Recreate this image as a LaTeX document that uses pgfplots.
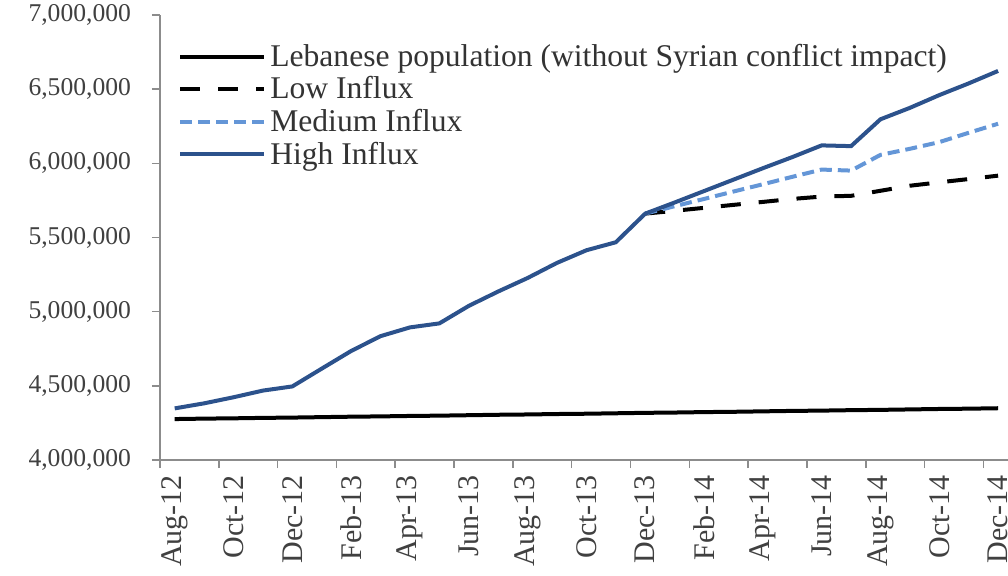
\documentclass[border=0pt]{standalone}
\usepackage{pgfplots}
\pgfplotsset{compat=1.18}
\usepackage{pgfplotstable}
\usepackage{fontspec}
\setmainfont{Liberation Serif}
\definecolor{highc}{HTML}{2C528C}
\definecolor{medc}{HTML}{6496D7}
\definecolor{axc}{HTML}{8C8C8C}
\definecolor{txtc}{HTML}{404040}
\definecolor{legc}{HTML}{333333}

\pgfplotstableread{
m leb
0 4276000
1 4279000
2 4281000
3 4284000
4 4286000
5 4289000
6 4292000
7 4294000
8 4297000
9 4299000
10 4302000
11 4305000
12 4307000
13 4310000
14 4312000
15 4315000
16 4318000
17 4320000
18 4323000
19 4325000
20 4328000
21 4331000
22 4333000
23 4336000
24 4338000
25 4341000
26 4344000
27 4346000
28 4349000
}\lebtab

\pgfplotstableread{
m high
0 4348000
1 4382000
2 4423000
3 4468000
4 4496000
5 4616000
6 4735000
7 4835000
8 4894000
9 4921000
10 5039000
11 5136000
12 5227000
13 5329000
14 5414000
15 5468000
16 5661000
17 5736000
18 5813000
19 5890000
20 5967000
21 6042000
22 6121000
23 6116000
24 6297000
25 6374000
26 6460000
27 6539000
28 6623000
}\hightab

\pgfplotstableread{
m med
16 5661000
17 5711000
18 5760000
19 5810000
20 5859000
21 5909000
22 5958000
23 5951000
24 6057000
25 6098000
26 6143000
27 6206000
28 6267000
}\medtab

\pgfplotstableread{
m low
16 5661000
17 5680000
18 5700000
19 5720000
20 5740000
21 5760000
22 5776000
23 5781000
24 5815000
25 5849000
26 5872000
27 5894000
28 5917000
}\lowtab

\begin{document}
\begin{tikzpicture}
\begin{axis}[
  at={(80pt,57.5pt)}, anchor=south west,
  scale only axis,
  width=426.4pt, height=222.5pt,
  xmin=-0.5, xmax=28.5,
  ymin=4000000, ymax=7000000,
  axis lines=left,
  axis line style={draw=axc, line width=0.8pt, -},
  ytick={4000000,4500000,...,7000000},
  xtick={0,2,...,28},
  xticklabels={Aug-12,Oct-12,Dec-12,Feb-13,Apr-13,Jun-13,Aug-13,Oct-13,Dec-13,Feb-14,Apr-14,Jun-14,Aug-14,Oct-14,Dec-14},
  minor xtick={-0.5,1.5,...,27.5},
  x tick label style={rotate=90, anchor=east, font=\fontsize{15}{18}\selectfont, text=txtc},
  major x tick style={draw=none},
  minor tick length=4pt,
  major tick length=4pt,
  tick align=outside,
  tick style={draw=axc, line width=0.8pt},
  scaled y ticks=false,
  y tick label style={font=\fontsize{12.8}{15}\selectfont, text=txtc, xshift=-7pt,
     /pgf/number format/fixed, /pgf/number format/1000 sep={,},
     /pgf/number format/assume math mode=true},
  legend cell align=left,
  legend style={draw=none, fill=none, at={(0.021,0.945)}, anchor=north west,
     font=\fontsize{15.8}{18}\selectfont, text=legc, row sep=-0.3pt,
     inner sep=0pt},
  legend image code/.code={\draw[#1] (0pt,0pt) -- (42pt,0pt);},
  clip=false,
]
\addplot[black, line width=2pt] table[x=m, y=leb] {\lebtab};
\addlegendentry{Lebanese population (without Syrian conflict impact)}
\addplot[black, line width=2pt, dash pattern=on 10pt off 9pt] table[x=m, y=low] {\lowtab};
\addlegendentry{Low Influx}
\addplot[medc, line width=2pt, dash pattern=on 6pt off 3pt] table[x=m, y=med] {\medtab};
\addlegendentry{Medium Influx}
\addplot[highc, line width=2pt] table[x=m, y=high] {\hightab};
\addlegendentry{High Influx}
\end{axis}
\pgfresetboundingbox
\path (0,0) rectangle (504pt,287.5pt);
\end{tikzpicture}
\end{document}
